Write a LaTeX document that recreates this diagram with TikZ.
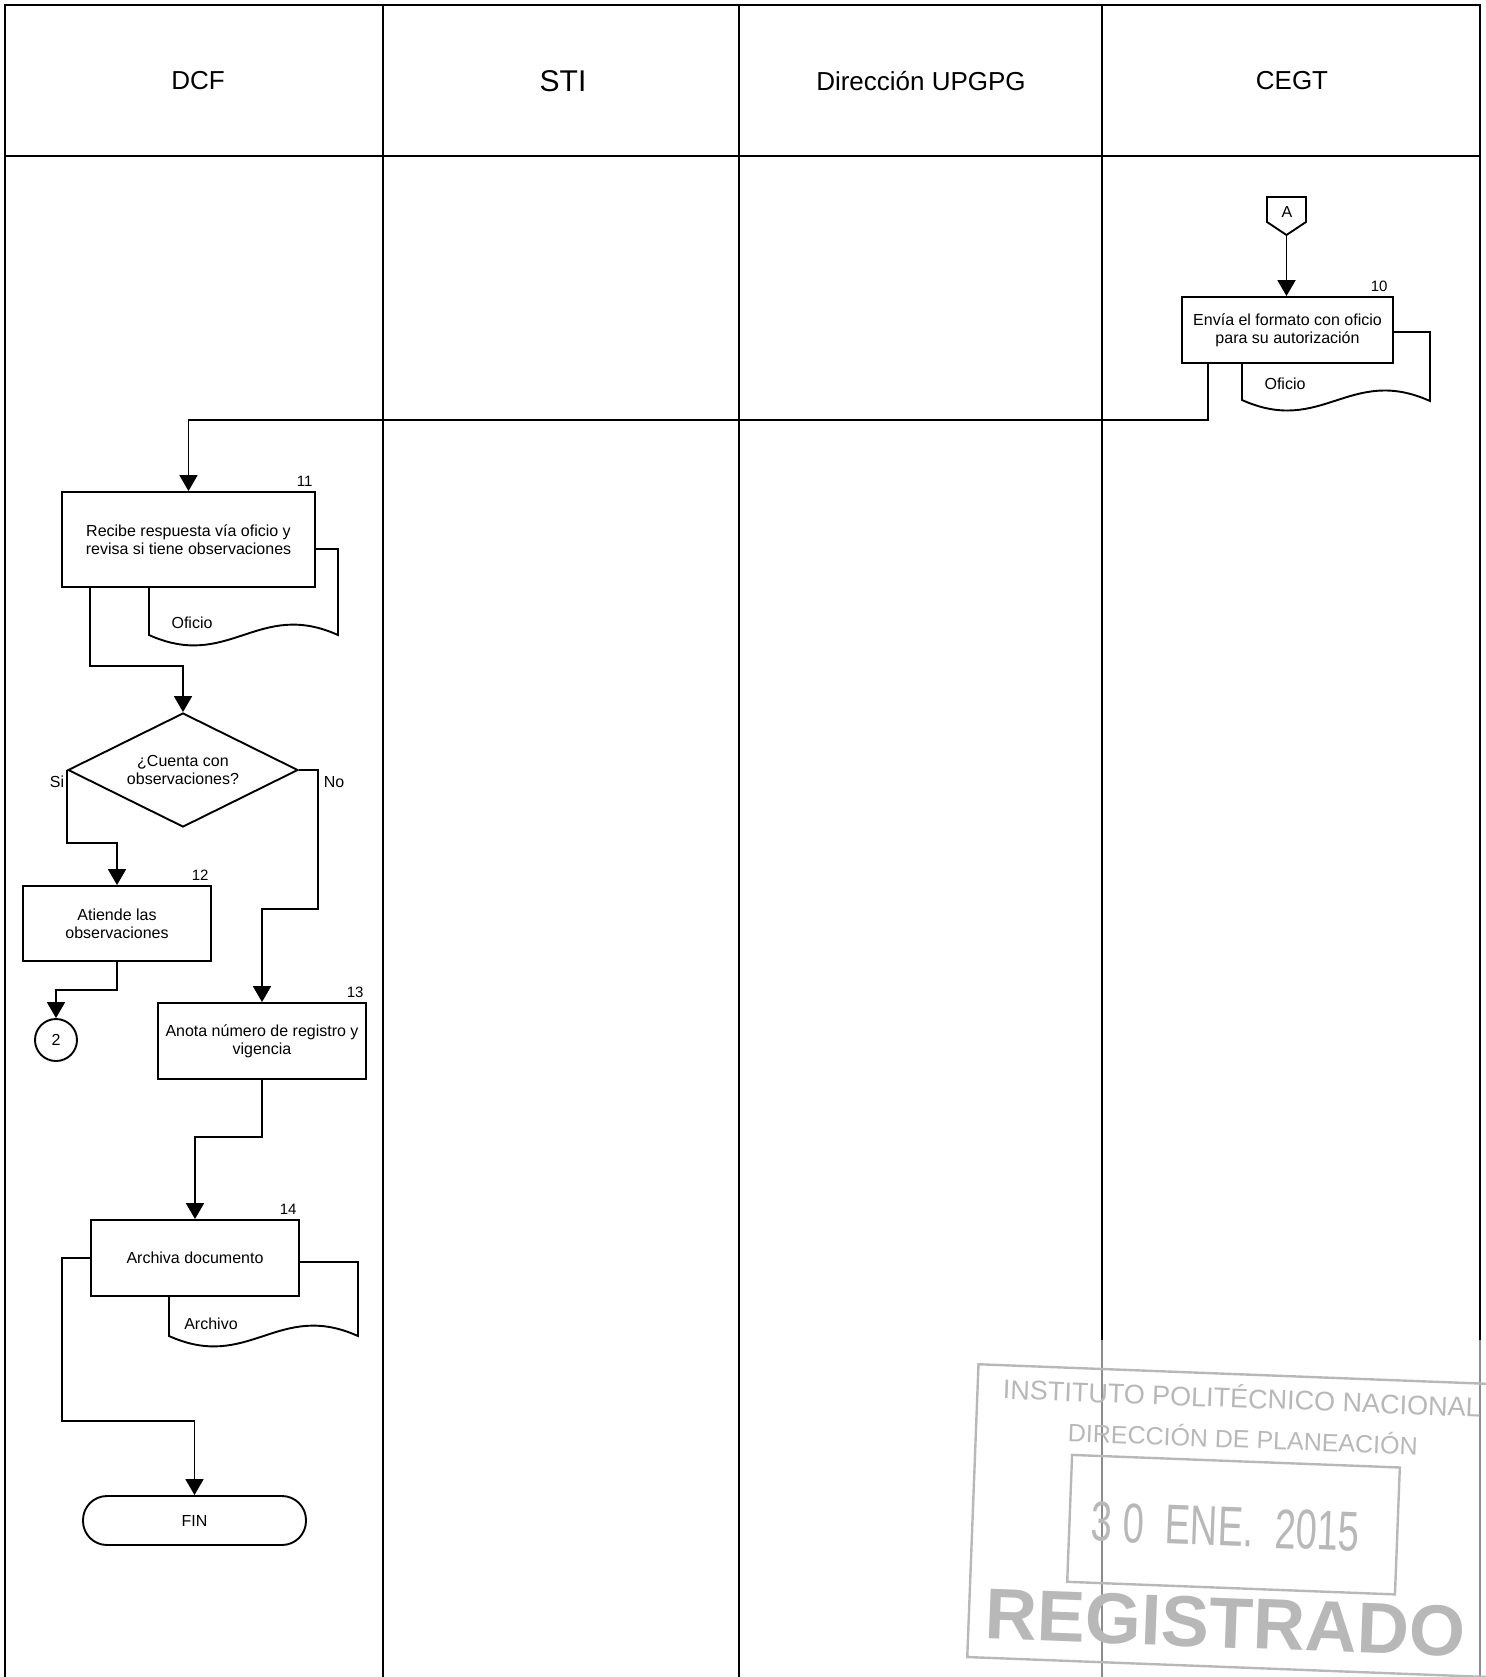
\documentclass[tikz,border=0pt]{standalone}
\usepackage{fontspec}
\setmainfont{Liberation Sans}
\usepackage{graphicx}
\usetikzlibrary{arrows.meta,shapes.geometric}
\begin{document}
\begin{tikzpicture}[x=0.5pt,y=-0.5pt,
  lane/.style={line width=1pt,draw=black},
  faint/.style={line width=0.6pt,draw=black!45},
  proc/.style={draw,line width=0.95pt,fill=white,rectangle,inner sep=2pt,align=center,font=\fontsize{8}{9}\selectfont},
  flow/.style={line width=0.95pt,-{Triangle[length=8pt,width=9pt]}},
  plain/.style={line width=0.95pt},
  doc/.style={draw,line width=0.95pt,fill=white},
  lbl/.style={font=\fontsize{8}{9}\selectfont,inner sep=0pt},
  num/.style={font=\fontsize{7.5}{8}\selectfont,inner sep=1pt,anchor=south east,yshift=1pt,xshift=-0.5pt},
  hdr/.style={font=\fontsize{13}{15}\selectfont},
  stamptext/.style={text=black!28,inner sep=0pt},
  stampline/.style={draw=black!28,line width=1.2pt}
]
\useasboundingbox (0,0) rectangle (1486,1677);

% swimlane frame
\draw[lane] (5,1677) -- (5,5) -- (1480,5) -- (1480,1340);
\draw[lane] (5,156) -- (1480,156);
\draw[lane] (383,5) -- (383,1677);
\draw[lane] (739,5) -- (739,1677);
\draw[lane] (1102,5) -- (1102,1340);
\draw[faint] (1102,1340) -- (1102,1677);
\draw[faint] (1480,1340) -- (1480,1677);

% headers
\node[hdr] (hDCF) at (198,81) {DCF};
\node[hdr,font=\fontsize{15}{17}\selectfont] (hSTI) at (563,81) {STI};
\node[hdr] (hUP) at (921,81) {Dirección UPGPG};
\node[hdr] (hCE) at (1292,81) {CEGT};

% off-page connector A
\draw[plain,fill=white] (1267,197) -- (1306,197) -- (1306,222) -- (1286.5,235) -- (1267,222) -- cycle;
\node[lbl] (A) at (1287,212) {A};
\coordinate (Atip) at (1286.5,235);

% documents
\draw[doc] (1242,332) -- (1242,400) .. controls (1322,436) and (1350,365) .. (1430,401) -- (1430,332) -- cycle;
\node[lbl] (d10) at (1285,384) {Oficio};
\draw[doc] (149,549) -- (149,635) .. controls (229,671) and (258,599) .. (338,635) -- (338,549) -- cycle;
\node[lbl] (d11) at (192,623) {Oficio};
\draw[doc] (169,1262) -- (169,1336) .. controls (249,1372) and (278,1300) .. (358,1336) -- (358,1262) -- cycle;
\node[lbl] (d14) at (211,1324) {Archivo};

% process boxes
\node[proc,minimum width=105.5pt,minimum height=33pt] (b10) at (1287.5,330) {Envía el formato con oficio\\para su autorización};
\node[num,xshift=-1.5pt] (n10) at (b10.north east) {10};
\node[proc,minimum width=126.5pt,minimum height=47.5pt] (b11) at (188.5,539.5) {Recibe respuesta vía oficio y\\revisa si tiene observaciones};
\node[num] (n11) at (b11.north east) {11};
\node[draw,diamond,aspect=2,line width=0.95pt,fill=white,minimum width=115pt,minimum height=57pt,inner sep=0pt,align=center,font=\fontsize{8}{9}\selectfont] (dec) at (183,770) {¿Cuenta con\\observaciones?};
\node[lbl] (si) at (57,782) {Si};
\node[lbl] (no) at (334,782) {No};
\node[proc,minimum width=94pt,minimum height=37.5pt] (b12) at (117,923.5) {Atiende las\\observaciones};
\node[num] (n12) at (b12.north east) {12};
\node[draw,circle,line width=0.95pt,minimum size=21pt,inner sep=0pt,font=\fontsize{8}{9}\selectfont] (c2) at (56,1040) {2};
\node[proc,minimum width=104pt,minimum height=38pt] (b13) at (262,1041) {Anota número de registro y\\vigencia};
\node[num] (n13) at (b13.north east) {13};
\node[proc,minimum width=104pt,minimum height=38pt] (b14) at (195,1258) {Archiva documento};
\node[num] (n14) at (b14.north east) {14};
\node[draw,line width=0.95pt,rounded corners=12pt,minimum width=111.5pt,minimum height=24.5pt,font=\fontsize{8}{9}\selectfont] (fin) at (194.5,1520.5) {FIN};

% connectors
\draw[flow] (Atip) -- (Atip |- b10.north);
\draw[flow] ([xshift=13.5pt]b10.south west) -- ++(0,56) -| (b11.north);
\draw[flow] ([xshift=14.5pt]b11.south west) -- ++(0,78) -| (dec.north);
\draw[flow] (dec.west) -- ++(0,73) -| (b12.north);
\draw[flow] (b12.south) -- ++(0,28) -| (c2.north);
\draw[flow] (dec.east) -- ++(19,0) -- ++(0,139) -| (b13.north);
\draw[flow] (b13.south) -- ++(0,57) -| (b14.north);
\draw[flow] (b14.west) -- ++(-28,0) -- ++(0,163) -| (fin.north);

% stamp
\begin{scope}
\clip (900,1340) rectangle (1486,1677);
\begin{scope}[shift={(1230,1512)},rotate=-2.2,transform shape]
\draw[stampline] (-257,-138) rectangle (290,155);
\draw[stampline] (-160,-51) rectangle (168,76);
\node[stamptext,anchor=west,font=\fontsize{13.5}{14}\selectfont] (s1) at (-232,-116) {INSTITUTO POLITÉCNICO NACIONAL};
\node[stamptext,font=\fontsize{12.5}{13}\selectfont] (s2) at (10,-75) {DIRECCIÓN DE PLANEACIÓN};
\node[stamptext] (s3) at (-4,15) {\scalebox{0.68}[1]{\fontsize{28}{28}\selectfont 3 0 \ ENE. \ 2015}};
\node[stamptext,font=\bfseries\fontsize{36}{36}\selectfont] (s4) at (0,111) {REGISTRADO};
\end{scope}
\end{scope}
\end{tikzpicture}
\end{document}
